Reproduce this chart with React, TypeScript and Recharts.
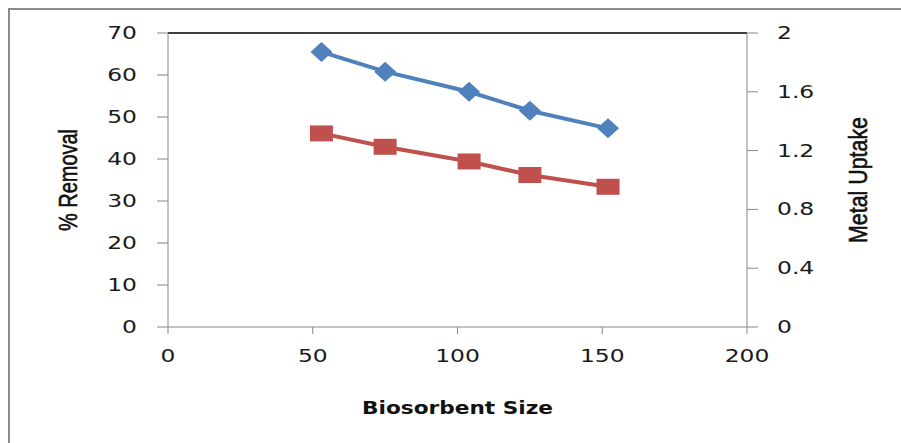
import { ComposedChart, Line, XAxis, YAxis, ReferenceLine } from 'recharts';

// biosorbent size vs removal / uptake
const sizes = [53, 75, 104, 125, 152];
const removal = [65.5, 60.8, 56.0, 51.5, 47.3];
const uptake = [1.317, 1.226, 1.126, 1.034, 0.954];

const xTicks = [0, 50, 100, 150, 200];
const leftTicks = [0, 10, 20, 30, 40, 50, 60, 70];
const rightTicks = [0, 0.4, 0.8, 1.2, 1.6, 2];

const data = sizes.map((s, i) => ({ size: s, removal: removal[i], uptake: uptake[i] }));

const AXIS = '#868686';
const BLUE = '#4F81BD';
const RED = '#C0504D';
const tickFont = { fontFamily: 'DejaVu Sans', fontSize: 18, fill: '#1a1a1a' };

const LeftTick = ({ x, y, payload }: any) => (
  <g transform={`translate(${x},${y})`}>
    <text transform="scale(1.3,1)" textAnchor="end" dy={6} {...tickFont}>{payload.value}</text>
  </g>
);

const RightTick = ({ x, y, payload }: any) => (
  <g transform={`translate(${x},${y})`}>
    <text transform="scale(1.3,1)" textAnchor="start" dy={6} {...tickFont}>{payload.value}</text>
  </g>
);

const BottomTick = ({ x, y, payload }: any) => (
  <g transform={`translate(${x},${y})`}>
    <text transform="scale(1.3,1)" textAnchor="middle" dy={14} {...tickFont}>{payload.value}</text>
  </g>
);

const Diamond = ({ cx, cy }: any) =>
  cx == null ? null : (
    <polygon points={`${cx - 11},${cy} ${cx},${cy - 10} ${cx + 11},${cy} ${cx},${cy + 10}`} fill={BLUE} />
  );

const Square = ({ cx, cy }: any) =>
  cx == null ? null : <rect x={cx - 11.5} y={cy - 8} width={23} height={16} fill={RED} />;

// rotated axis title, squeezed to a fixed length
const SideTitle = (cx: number, text: string, size: number, len: number) => ({ viewBox }: any) => {
  const cy = viewBox.y + viewBox.height / 2;
  return (
    <text
      x={cx}
      y={cy}
      transform={`rotate(-90,${cx},${cy})`}
      textAnchor="middle"
      dy={9}
      fontFamily="Liberation Sans"
      fontSize={size}
      textLength={len}
      lengthAdjust="spacingAndGlyphs"
      fill="#111"
      stroke="#111"
      strokeWidth={0.6}
    >
      {text}
    </text>
  );
};

export default function App() {
  return (
    <div
      style={{
        position: 'absolute',
        left: 8,
        top: 8,
        width: 893,
        height: 435,
        borderTop: '2px solid #8c8c8c',
        borderLeft: '2px solid #8c8c8c',
        boxSizing: 'border-box',
        background: '#fff',
      }}
    >
      <ComposedChart width={891} height={433} data={data} margin={{ top: 23, right: 0, bottom: 0, left: 0 }}>
        <XAxis
          dataKey="size"
          type="number"
          domain={[0, 200]}
          ticks={xTicks}
          stroke={AXIS}
          tickSize={7}
          tickMargin={14}
          tick={<BottomTick />}
          height={116}
          label={{
            content: ({ viewBox }: any) => (
              <text
                x={viewBox.x + viewBox.width / 2}
                y={viewBox.y + 87}
                textAnchor="middle"
                fontFamily="DejaVu Sans"
                fontWeight="bold"
                fontSize={18}
                textLength={191}
                lengthAdjust="spacingAndGlyphs"
                fill="#111"
              >
                Biosorbent Size
              </text>
            ),
          }}
        />
        <YAxis
          yAxisId="left"
          domain={[0, 70]}
          ticks={leftTicks}
          stroke={AXIS}
          tickSize={11}
          tickMargin={20}
          tick={<LeftTick />}
          width={158}
          label={{ content: SideTitle(58, '% Removal', 26, 102) }}
        />
        <YAxis
          yAxisId="right"
          orientation="right"
          domain={[0, 2]}
          ticks={rightTicks}
          stroke={AXIS}
          tickSize={11}
          tickMargin={19}
          tick={<RightTick />}
          width={154}
          label={{ content: SideTitle(848, 'Metal Uptake', 25, 126) }}
        />
        <ReferenceLine yAxisId="left" y={70} stroke="#000" strokeWidth={1.5} />
        <Line
          yAxisId="left"
          dataKey="removal"
          stroke={BLUE}
          strokeWidth={4}
          dot={<Diamond />}
          activeDot={false}
          isAnimationActive={false}
        />
        <Line
          yAxisId="right"
          dataKey="uptake"
          stroke={RED}
          strokeWidth={4}
          dot={<Square />}
          activeDot={false}
          isAnimationActive={false}
        />
      </ComposedChart>
    </div>
  );
}
